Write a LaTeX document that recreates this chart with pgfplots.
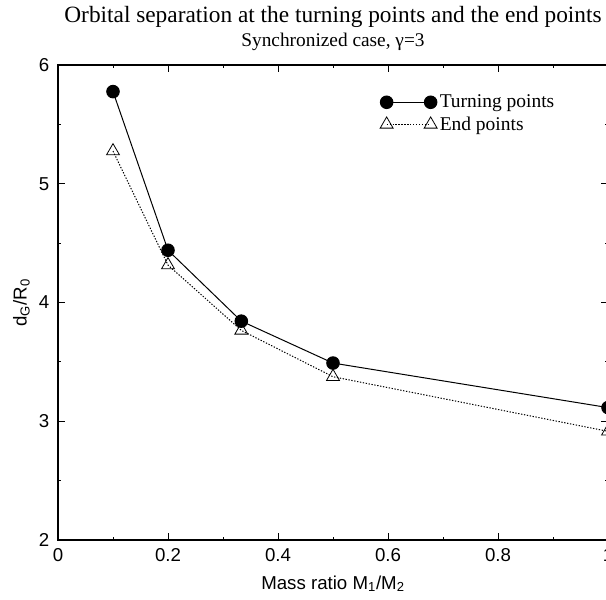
\documentclass[border=0pt]{standalone}
\usepackage{fontspec}
\setmainfont{Liberation Serif}
\setsansfont{Liberation Sans}
\usepackage{pgfplots}
\pgfplotsset{compat=1.18}
\usetikzlibrary{calc}
\begin{document}
\begin{tikzpicture}
\begin{axis}[
  scale only axis,
  width=412.5pt, height=356.25pt,
  xmin=0, xmax=1, ymin=2, ymax=6,
  xtick={0,0.2,...,1}, ytick={2,3,4,5,6},
  minor x tick num=1, minor y tick num=1,
  major tick length=5.25pt, minor tick length=2.6pt,
  tick style={black, line width=0.6pt},
  axis line style={line width=0.8pt},
  /pgf/number format/assume math mode=true,
  ticklabel style={font=\sffamily\fontsize{14}{16}\selectfont},
  yticklabel style={xshift=-3pt},
  xticklabel style={/pgf/number format/fixed, yshift=-3pt},
  legend style={draw=none, fill=none, at={(axis description cs:0.578,0.949)}, anchor=north west,
    font=\fontsize{14.6}{16.5}\selectfont, row sep=1.2pt},
  legend cell align=left,
  reverse legend,
  legend image code/.code={\draw[mark repeat=1,mark phase=1,#1] plot coordinates {(0pt,0pt) (33pt,0pt)};},
  clip=false,
]
\addplot[black, line width=0.75pt, dash pattern=on 1pt off 1.2pt, mark=triangle, mark size=5.6pt,
  mark options={solid, fill=white, line width=0.6pt}]
  coordinates {(0.1,5.275) (0.2,4.315) (0.3333,3.765) (0.5,3.375) (1,2.915)};
\addlegendentry{End points}
\addplot[black, line width=0.75pt, mark=*, mark size=4.7pt, mark options={solid}]
  coordinates {(0.1,5.776) (0.2,4.44) (0.3333,3.843) (0.5,3.49) (1,3.115)};
\addlegendentry{Turning points}
\node[anchor=base, yshift=32pt, font=\fontsize{17.5}{20}\selectfont] at (rel axis cs:0.5,1) {Orbital separation at the turning points and the end points};
\node[anchor=base, yshift=14pt, font=\fontsize{14.5}{17}\selectfont] at (rel axis cs:0.5,1) {Synchronized case, γ=3};
\node[anchor=base, yshift=-36.75pt, font=\sffamily\fontsize{14}{16}\selectfont] at (rel axis cs:0.5,0) {Mass ratio M\textsubscript{1}/M\textsubscript{2}};
\node[anchor=base, rotate=90, font=\sffamily\fontsize{14}{16}\selectfont] at ([xshift=-23.5pt]rel axis cs:0,0.5) {d\textsubscript{G}/R\textsubscript{0}};
\end{axis}
\pgfresetboundingbox
\path[use as bounding box] ($(current axis.south west)+(-43.5pt,-44.25pt)$) rectangle ($(current axis.south west)+(411pt,405pt)$);
\end{tikzpicture}
\end{document}
